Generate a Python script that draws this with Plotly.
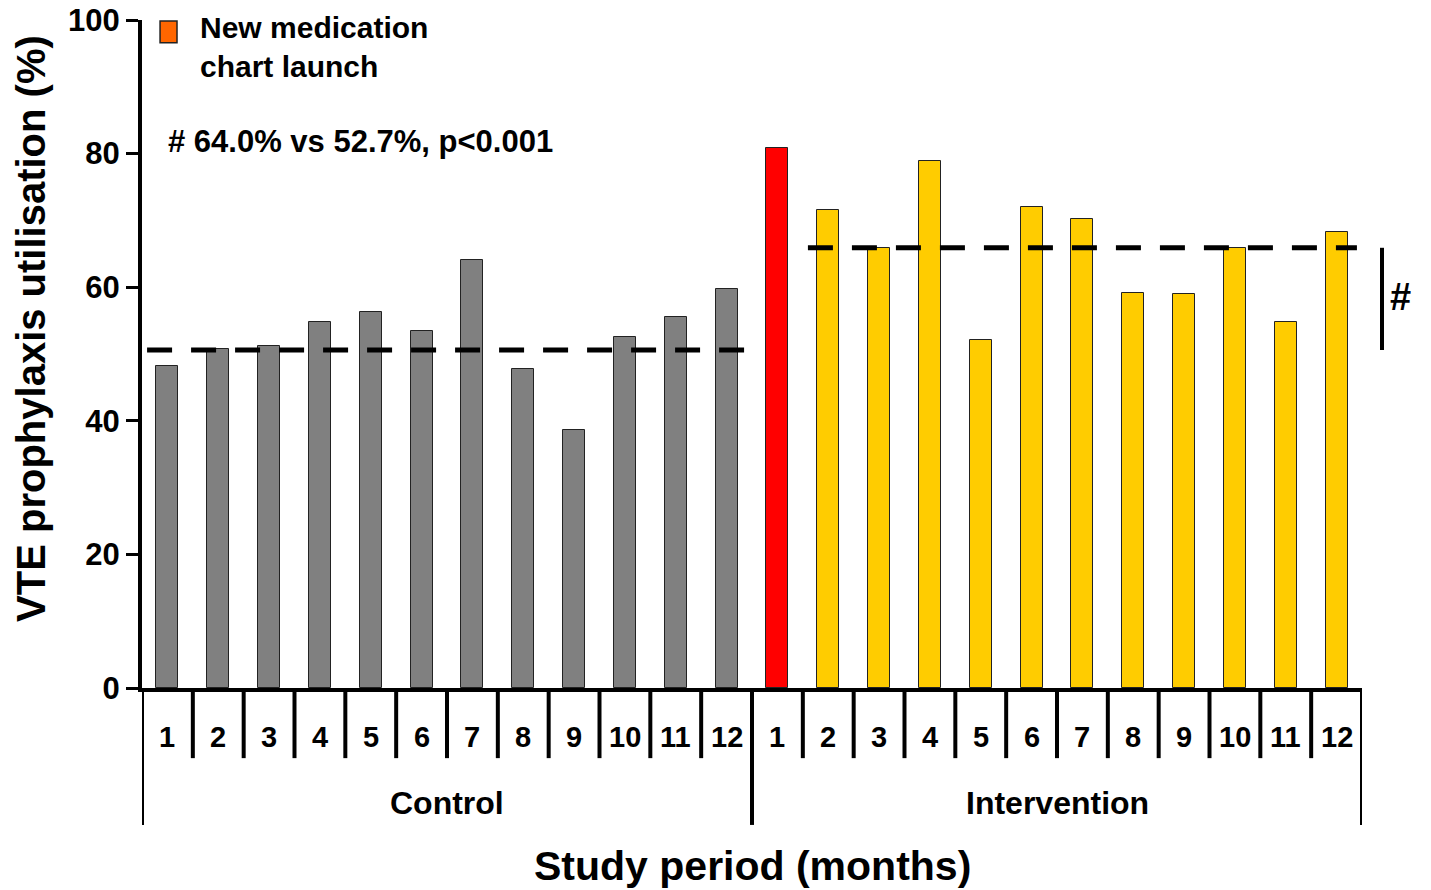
import plotly.graph_objects as go

# ---- data ----
month_labels = [str(i) for i in range(1, 13)]
group_names = ["Control", "Intervention"]
control_values = [48.2, 50.8, 51.2, 54.8, 56.3, 53.4, 64.1, 47.7, 38.6, 52.6, 55.5, 59.7]
intervention_values = [80.8, 71.6, 65.9, 78.9, 52.1, 72.0, 70.2, 59.1, 59.0, 65.9, 54.8, 68.3]
group_means = [50.6, 65.9]
legend_label = "New medication<br>chart launch"
stat_text = "# 64.0% vs 52.7%, p<0.001"

# ---- styles ----
FONT = "Arial, Liberation Sans, sans-serif"
GREY = "#808080"
RED = "#FF0000"
YELLOW = "#FFCC00"
ORANGE = "#FF6600"

n = len(month_labels)
values = control_values + intervention_values
xs = list(range(2 * n))
colors = [GREY] * n + [RED] + [YELLOW] * (n - 1)

fig = go.Figure()
fig.add_trace(go.Bar(
    x=xs, y=values, width=0.43,
    marker=dict(color=colors, line=dict(color="#222222", width=1)),
    showlegend=False, hoverinfo="skip",
))

# group mean dashed lines
fig.add_trace(go.Scatter(
    x=[-0.4, n - 0.4], y=[group_means[0]] * 2, mode="lines",
    line=dict(color="black", width=5, dash="25px,19px"), showlegend=False, hoverinfo="skip"))
fig.add_trace(go.Scatter(
    x=[n + 0.6, 2 * n - 0.6], y=[group_means[1]] * 2, mode="lines",
    line=dict(color="black", width=5, dash="25px,19px"), showlegend=False, hoverinfo="skip"))

shapes = []
annotations = []

# category separators and labels
for i in range(2 * n):
    if i > 0:
        shapes.append(dict(type="line", xref="x", yref="paper", x0=i - 0.5, x1=i - 0.5,
                           y0=0, y1=-0.105, line=dict(color="black", width=4)))
    annotations.append(dict(x=i, y=-0.0734, xref="x", yref="paper", text=month_labels[i % n],
                            showarrow=False, xanchor="center", yanchor="middle",
                            font=dict(family=FONT, size=29, color="black", weight="bold")))

# group separators and labels
for b in [-0.5, n - 0.5, 2 * n - 0.5]:
    shapes.append(dict(type="line", xref="x", yref="paper", x0=b, x1=b,
                       y0=0, y1=-0.205, line=dict(color="black", width=4)))
for g, name in enumerate(group_names):
    annotations.append(dict(x=g * n + (n - 1) / 2, y=-0.172, xref="x", yref="paper", text=name,
                            showarrow=False, xanchor="center", yanchor="middle",
                            font=dict(family=FONT, size=32, color="black", weight="bold")))

# x title
annotations.append(dict(x=0.5, y=-0.266, xref="paper", yref="paper", text="Study period (months)",
                        showarrow=False, xanchor="center", yanchor="middle",
                        font=dict(family=FONT, size=41, color="black", weight="bold")))
# y title
annotations.append(dict(x=-0.091, y=0.539, xref="paper", yref="paper",
                        text="VTE prophylaxis utilisation (%)", textangle=-90,
                        showarrow=False, xanchor="center", yanchor="middle",
                        font=dict(family=FONT, size=40, color="black", weight="bold")))

# legend box
shapes.append(dict(type="rect", xref="paper", yref="paper", x0=0.0148, x1=0.0287, y0=0.966, y1=0.9985,
                   fillcolor=ORANGE, line=dict(color="#222222", width=1.5)))
annotations.append(dict(x=0.0459, y=1.016, xref="paper", yref="paper", text=legend_label,
                        showarrow=False, xanchor="left", yanchor="top", align="left",
                        font=dict(family=FONT, size=30, color="black", weight="bold")))
# stats text
annotations.append(dict(x=0.0197, y=0.818, xref="paper", yref="paper", text=stat_text,
                        showarrow=False, xanchor="left", yanchor="middle",
                        font=dict(family=FONT, size=31, color="black", weight="bold")))

# significance bracket
shapes.append(dict(type="line", xref="paper", yref="y", x0=1.0164, x1=1.0164,
                   y0=group_means[0], y1=group_means[1], line=dict(color="black", width=4)))
annotations.append(dict(x=1.021, y=sum(group_means) / 2 + 0.3, xref="paper", yref="y", text="#",
                        showarrow=False, xanchor="left", yanchor="middle",
                        font=dict(family=FONT, size=38, color="black", weight="bold")))

fig.update_layout(
    width=1431, height=890,
    margin=dict(l=142, r=69, t=20, b=202, autoexpand=False),
    plot_bgcolor="white", paper_bgcolor="white",
    shapes=shapes, annotations=annotations,
    bargap=0,
    xaxis=dict(range=[-0.5, 2 * n - 0.5], showticklabels=False, ticks="", showgrid=False,
               zeroline=False, showline=True, linecolor="black", linewidth=4, automargin=False),
    yaxis=dict(range=[0, 100], tickvals=[0, 20, 40, 60, 80, 100], ticks="outside", ticklen=12,
               tickwidth=3, tickcolor="black", showgrid=False, zeroline=False,
               showline=True, linecolor="black", linewidth=4, automargin=False,
               ticklabeloverflow="allow",
               tickfont=dict(family=FONT, size=31, color="black", weight="bold")),
)

# remove the page's default body margin so the figure fills the window exactly
fig.write_html("out.html", config={"displayModeBar": False},
               post_script="document.body.style.margin='0';")
